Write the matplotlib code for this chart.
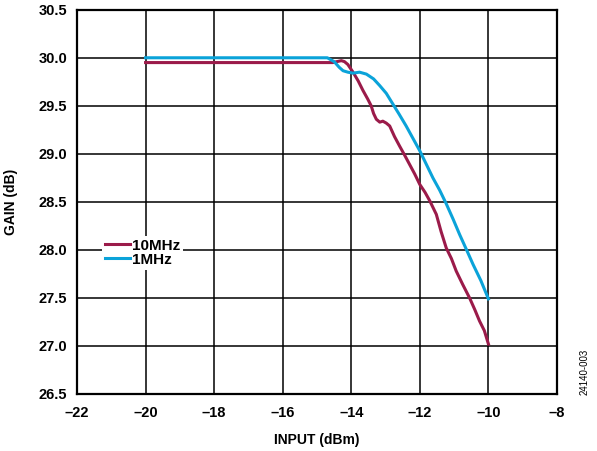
import matplotlib.pyplot as plt

plt.rcParams['font.family'] = ['Liberation Sans', 'DejaVu Sans']

# gain vs input power, 1 MHz
x_1mhz = [-20.0, -16.0, -14.7, -14.5, -14.35, -14.24, -14.1, -13.95, -13.76, -13.56,
          -13.35, -13.17, -12.98, -12.79, -12.6, -12.4, -12.2, -12.0, -11.81, -11.62,
          -11.42, -11.23, -11.03, -10.84, -10.65, -10.45, -10.22, -10.0]
g_1mhz = [30.00, 30.00, 30.00, 29.96, 29.90, 29.865, 29.85, 29.84, 29.85, 29.83,
          29.78, 29.71, 29.63, 29.52, 29.41, 29.29, 29.16, 29.03, 28.89, 28.75,
          28.62, 28.48, 28.32, 28.16, 28.01, 27.85, 27.68, 27.49]

# gain vs input power, 10 MHz
x_10mhz = [-20.0, -16.0, -14.54, -14.42, -14.29, -14.2, -14.1, -13.95, -13.8, -13.66,
           -13.52, -13.42, -13.35, -13.27, -13.17, -13.08, -12.98, -12.88, -12.74,
           -12.59, -12.45, -12.3, -12.15, -12.0, -11.85, -11.71, -11.52, -11.38,
           -11.23, -11.08, -10.94, -10.75, -10.55, -10.4, -10.26, -10.12, -10.0]
g_10mhz = [29.95, 29.95, 29.95, 29.96, 29.97, 29.96, 29.93, 29.85, 29.76, 29.66,
           29.57, 29.50, 29.42, 29.36, 29.33, 29.34, 29.32, 29.29, 29.18,
           29.08, 28.99, 28.89, 28.79, 28.68, 28.60, 28.51, 28.37, 28.19,
           28.02, 27.91, 27.78, 27.64, 27.50, 27.38, 27.26, 27.16, 27.02]

x_ticks = [-22, -20, -18, -16, -14, -12, -10, -8]
y_ticks = [26.5, 27.0, 27.5, 28.0, 28.5, 29.0, 29.5, 30.0, 30.5]

fig = plt.figure(figsize=(5.97, 4.51), dpi=100)
ax = fig.add_axes([0.129, 0.1264, 0.804, 0.852])

ax.plot(x_10mhz, g_10mhz, color='#9B1B4A', linewidth=2.2, label='10MHz', zorder=3)
ax.plot(x_1mhz, g_1mhz, color='#0BA3D9', linewidth=2.2, label='1MHz', zorder=3)

ax.set_xlim(-22, -8)
ax.set_ylim(26.5, 30.5)
ax.set_xticks(x_ticks)
ax.set_yticks(y_ticks)
ax.set_xticklabels([f'\u2013{abs(v)}' for v in x_ticks])
ax.set_yticklabels([f'{v:.1f}' for v in y_ticks])
ax.tick_params(length=0, labelsize=10.5)
ax.tick_params(axis='x', pad=9)
ax.tick_params(axis='y', pad=7)
for lbl in ax.get_xticklabels() + ax.get_yticklabels():
    lbl.set_fontweight('bold')

ax.grid(True, color='black', linewidth=1.1)
ax.set_axisbelow(True)
for sp in ax.spines.values():
    sp.set_linewidth(1.6)

ax.set_xlabel('INPUT (dBm)', fontsize=10, fontweight='bold', labelpad=9)
ax.set_ylabel('GAIN (dB)', fontsize=10, fontweight='bold', labelpad=15)

leg = ax.legend(loc='upper left', bbox_to_anchor=(0.052, 0.412), frameon=True,
                fancybox=False, handlelength=1.65, handletextpad=0.1,
                labelspacing=0.0, borderpad=0.2, borderaxespad=0,
                prop={'weight': 'bold', 'size': 11})
leg.get_frame().set_edgecolor('none')
leg.get_frame().set_facecolor('white')
leg.get_frame().set_alpha(1)

fig.text(0.98, 0.175, '24140-003', rotation=90, fontsize=7, ha='center', va='center')

plt.savefig('out.png', dpi=100)
